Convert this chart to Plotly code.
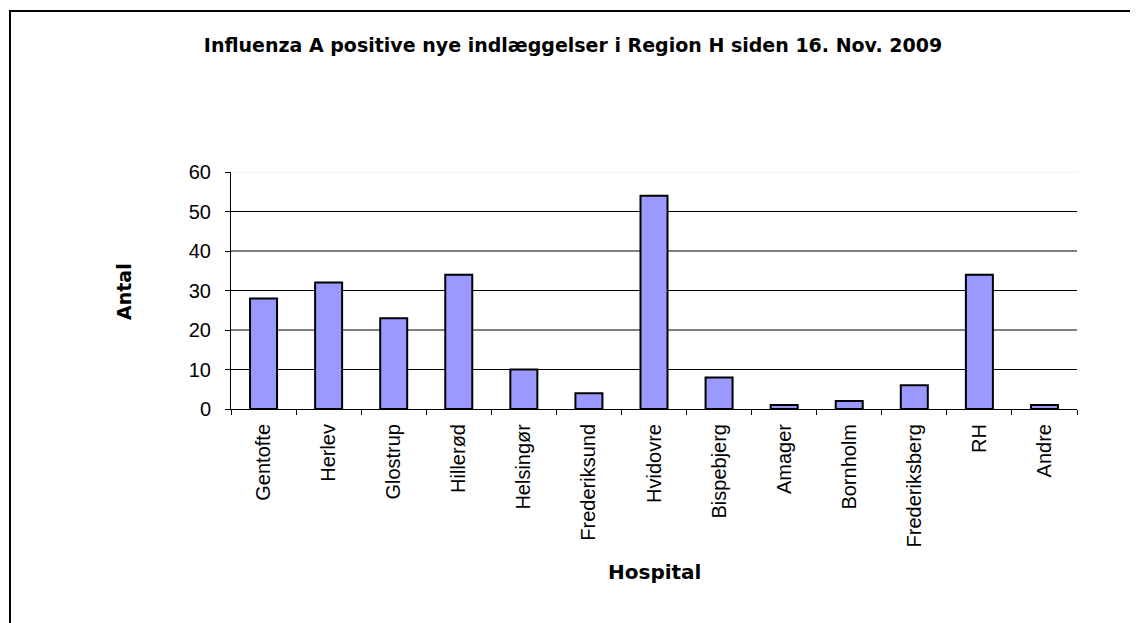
import plotly.graph_objects as go

hospitals = ["Gentofte", "Herlev", "Glostrup", "Hillerød", "Helsingør", "Frederiksund",
             "Hvidovre", "Bispebjerg", "Amager", "Bornholm", "Frederiksberg", "RH", "Andre"]
antal = [28, 32, 23, 34, 10, 4, 54, 8, 1, 2, 6, 34, 1]
y_ticks = [0, 10, 20, 30, 40, 50, 60]

title_text = "Influenza A positive nye indlæggelser i Region H siden 16. Nov. 2009"
x_title = "Hospital"
y_title = "Antal"

OFF = 8  # page body margin
W, H = 1138 - OFF, 623 - OFF
L, R, T, B = 231 - OFF, 1077 - OFF, 172 - OFF, 409 - OFF


def px(x):
    return (x - OFF - L) / (R - L)


def py(y):
    return (B - (y - OFF)) / (B - T)


fig = go.Figure(go.Bar(
    x=hospitals, y=antal,
    marker=dict(color="#9999FF", line=dict(color="black", width=2)),
))

shapes = []
for v in y_ticks[1:]:
    shapes.append(dict(type="line", xref="paper", yref="y", x0=0, x1=1, y0=v, y1=v,
                       line=dict(color="#E8E8E8" if v == y_ticks[-1] else "black", width=1),
                       layer="below"))
# outer frame
shapes.append(dict(type="rect", xref="paper", yref="paper",
                   x0=px(10), x1=px(1133), y0=py(650), y1=py(11),
                   line=dict(color="black", width=2), fillcolor="rgba(0,0,0,0)", layer="below"))

fig.update_layout(
    width=W, height=H,
    margin=dict(l=L, r=W - R, t=T, b=H - B, pad=0),
    paper_bgcolor="white", plot_bgcolor="white",
    bargap=0.585,
    showlegend=False,
    shapes=shapes,
    title=dict(text=title_text, xref="container", yref="container",
               x=(573 - OFF) / W, y=1 - (45 - OFF) / H, xanchor="center", yanchor="middle",
               font=dict(family="DejaVu Sans", size=19, color="black", weight="bold")),
    annotations=[
        dict(text=x_title, xref="paper", yref="paper", x=px(654), y=py(572),
             xanchor="center", yanchor="middle", showarrow=False,
             font=dict(family="DejaVu Sans", size=20, color="black", weight="bold")),
        dict(text=y_title, xref="paper", yref="paper", x=px(124), y=py(292),
             xanchor="center", yanchor="middle", showarrow=False, textangle=-90,
             font=dict(family="DejaVu Sans", size=19, color="black", weight="bold")),
    ],
    xaxis=dict(
        type="category", tickangle=-90, ticks="outside", tickson="boundaries",
        ticklen=5, tickcolor="black", tickwidth=1,
        showline=True, linecolor="black", linewidth=1, showgrid=False,
        tickfont=dict(family="Liberation Sans", size=20, color="black"),
        ticklabelstandoff=6,
    ),
    yaxis=dict(
        range=[0, 60], tickvals=y_ticks, ticks="outside", ticklen=5,
        tickcolor="black", tickwidth=1, showline=True, linecolor="black", linewidth=1,
        showgrid=False, zeroline=False,
        tickfont=dict(family="Liberation Sans", size=20, color="black"),
        ticklabelstandoff=10,
    ),
)

fig.write_html("out.html")
